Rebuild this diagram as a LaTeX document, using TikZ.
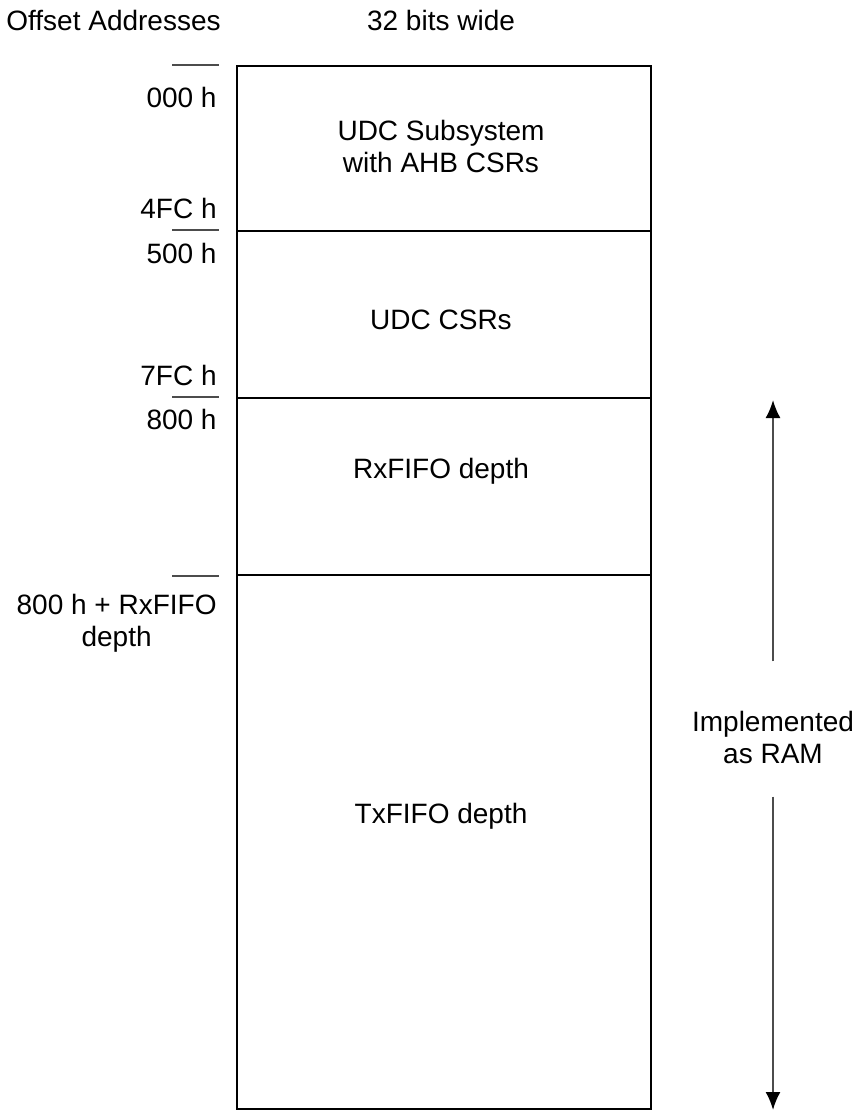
\documentclass[tikz,border=0pt]{standalone}
\usepackage{fontspec}
\setmainfont{Liberation Sans}
\usepackage{tikz}
\usetikzlibrary{calc,arrows.meta}

\tikzset{
    lbl/.style={font=\fontsize{14}{16}\selectfont, inner sep=0pt, align=center},
    addr/.style={lbl, anchor=east},
    tick/.style={line width=1pt, draw=black!70},
    ramarrow/.style={-{Latex[length=9pt,width=7.5pt,color=black]}, line width=1pt, draw=black!70},
}

\begin{document}
\begin{tikzpicture}[x=0.5pt,y=-0.5pt]
            \useasboundingbox (0,0) rectangle (859,1112);

            %%% HEADINGS %%%
            \node[lbl,anchor=west] (offs) at (6,20){Offset Addresses};
            \node[lbl] (wide) at (441,20){32 bits wide};

            %%% BOX %%%
            \draw[line width=1pt] (237,66) rectangle (651,1109);
            \draw[line width=1pt] (237,231)--(651,231);
            \draw[line width=1pt] (237,398)--(651,398);
            \draw[line width=1pt] (237,575)--(651,575);

            %%% REGIONS %%%
            \node[lbl] (udcsub) at (441,146){UDC Subsystem\\with AHB CSRs};
            \node[lbl] (udccsr) at (441,320){UDC CSRs};
            \node[lbl] (rxfifo) at (441,471){RxFIFO depth};
            \node[lbl] (txfifo) at (441,816){TxFIFO depth};

            %%% TICKS %%%
            \draw[tick] (172,65)--(219,65);
            \draw[tick] (172,230)--(219,230);
            \draw[tick] (172,397)--(219,397);
            \draw[tick] (172,576)--(219,576);

            %%% ADDRESSES %%%
            \node[addr] (a000) at (217,97){000 h};
            \node[addr] (a4fc) at (217,208){4FC h};
            \node[addr] (a500) at (217,253){500 h};
            \node[addr] (a7fc) at (217,375){7FC h};
            \node[addr] (a800) at (217,419){800 h};
            \node[addr] (arx) at (217,623){800 h + RxFIFO\\depth};

            %%% RAM %%%
            \node[lbl] (ram) at (773,737){Implemented\\as RAM};
            \coordinate (ramtop) at (773,400);
            \coordinate (rambot) at (773,1110);
            \draw[ramarrow] ($(ram.north)+(0,-49)$)--(ramtop);
            \draw[ramarrow] ($(ram.south)+(0,33)$)--(rambot);
\end{tikzpicture}
\end{document}
